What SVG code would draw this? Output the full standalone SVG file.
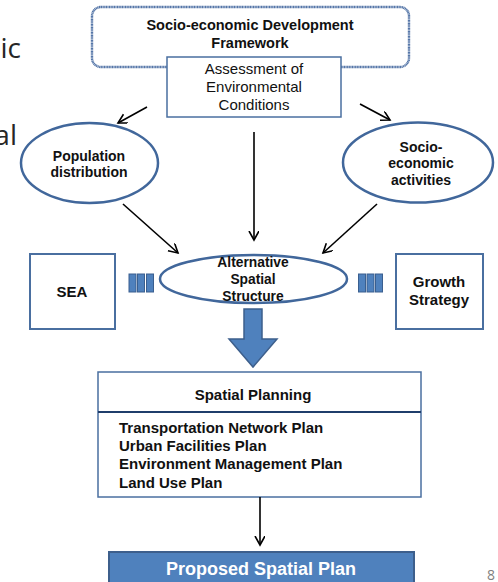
<svg xmlns="http://www.w3.org/2000/svg" width="498" height="582" viewBox="0 0 498 582">
<defs>
<style>
.b{font-family:"Liberation Sans",Arial,sans-serif;font-weight:bold;fill:#111;text-anchor:middle}
.r{font-family:"Liberation Sans",Arial,sans-serif;fill:#111;text-anchor:middle}
.ell{fill:#fff;stroke:#41679b;stroke-width:2.5}
.box{fill:#fff;stroke:#4a6fa0;stroke-width:2}
.con{stroke:#000;stroke-width:1.6;fill:none}
.bar{fill:#4f81bd;stroke:#3a5f8f;stroke-width:1}
</style>
<marker id="ah" markerWidth="12" markerHeight="12" refX="9" refY="5" orient="auto" markerUnits="userSpaceOnUse">
<path d="M0,0 L9,5 L0,10" fill="none" stroke="#000" stroke-width="1.6"/>
</marker>
</defs>
<rect width="498" height="582" fill="#fff"/>
<g id="bg-text" font-family="'Open Sans','Noto Sans',sans-serif" font-size="28" fill="#262626" text-anchor="end">
<text x="21" y="58">ic</text>
<text x="17" y="145">al</text>
</g>
<g id="framework">
<rect x="92" y="7" width="317" height="60" rx="9" fill="#fff" stroke="#5576a8" stroke-width="2.4" stroke-dasharray="1.2 0.4"/>
<text class="b" x="250" y="30" font-size="14.5">Socio-economic Development</text>
<text class="b" x="250" y="48" font-size="14.5">Framework</text>
</g>
<g id="assessment">
<rect x="167" y="57" width="174" height="60" fill="#fff" stroke="#4a6fa0" stroke-width="1.5"/>
<text class="r" x="254" y="74" font-size="15">Assessment of</text>
<text class="r" x="254" y="92" font-size="15">Environmental</text>
<text class="r" x="254" y="110" font-size="15">Conditions</text>
</g>
<g id="population">
<ellipse class="ell" cx="89.5" cy="163" rx="68.5" ry="40"/>
<text class="b" x="89" y="161" font-size="14">Population</text>
<text class="b" x="89" y="177" font-size="14">distribution</text>
</g>
<g id="socioeconomic">
<ellipse class="ell" cx="418" cy="162.5" rx="75" ry="40"/>
<text class="b" x="421" y="152" font-size="14">Socio-</text>
<text class="b" x="421" y="168" font-size="14">economic</text>
<text class="b" x="421" y="185" font-size="14">activities</text>
</g>
<g id="alternative">
<ellipse class="ell" cx="253.5" cy="279" rx="93.5" ry="24"/>
<text class="b" x="253" y="267" font-size="13.8">Alternative</text>
<text class="b" x="253" y="284" font-size="13.8">Spatial</text>
<text class="b" x="253" y="301" font-size="13.8">Structure</text>
</g>
<g id="sea">
<rect class="box" x="30" y="254" width="85" height="75"/>
<text class="b" x="72" y="297" font-size="15">SEA</text>
</g>
<g id="growth">
<rect class="box" x="396" y="254" width="87" height="75"/>
<text class="b" x="439" y="287" font-size="15">Growth</text>
<text class="b" x="439" y="305" font-size="15">Strategy</text>
</g>
<g id="bars-left">
<rect class="bar" x="129" y="274" width="7" height="18"/>
<rect class="bar" x="137.5" y="274" width="7" height="18"/>
<rect class="bar" x="146.5" y="274" width="7" height="18"/>
</g>
<g id="bars-right">
<rect class="bar" x="358.5" y="274" width="7" height="18"/>
<rect class="bar" x="367" y="274" width="7" height="18"/>
<rect class="bar" x="375.5" y="274" width="7" height="18"/>
</g>
<g id="spatial-planning">
<rect x="98" y="372" width="323" height="125" fill="#fff" stroke="#4a6fa0" stroke-width="1.5"/>
<line x1="98" y1="412" x2="421" y2="412" stroke="#1f3d6b" stroke-width="1.8"/>
<text class="b" x="253" y="400" font-size="15">Spatial Planning</text>
<g font-family="'Liberation Sans',Arial,sans-serif" font-weight="bold" font-size="15" fill="#111">
<text x="119" y="433">Transportation Network Plan</text>
<text x="119" y="451">Urban Facilities Plan</text>
<text x="119" y="469">Environment Management Plan</text>
<text x="119" y="488">Land Use Plan</text>
</g>
</g>
<g id="proposed">
<rect x="109" y="552" width="305" height="40" fill="#4f81bd" stroke="#3d5f8c" stroke-width="2"/>
<text x="261" y="575" font-family="'Liberation Sans',Arial,sans-serif" font-weight="bold" font-size="18" fill="#fff" text-anchor="middle">Proposed Spatial Plan</text>
</g>
<g id="connectors">
<line class="con" x1="147" y1="107" x2="118" y2="123" marker-end="url(#ah)"/>
<line class="con" x1="360" y1="104" x2="390" y2="120" marker-end="url(#ah)"/>
<line class="con" x1="254" y1="132" x2="254" y2="240" marker-end="url(#ah)"/>
<line class="con" x1="123" y1="204" x2="178" y2="253" marker-end="url(#ah)"/>
<line class="con" x1="377" y1="204" x2="323" y2="253" marker-end="url(#ah)"/>
<line class="con" x1="260" y1="497" x2="260" y2="545" stroke-width="2.2" marker-end="url(#ah)"/>
<polygon points="244,309 262,309 262,339 277,339 253,367 229,339 244,339" fill="#4f81bd" stroke="#3d5f8c" stroke-width="1.5"/>
</g>
<text x="487" y="580" font-family="'Open Sans','Noto Sans',sans-serif" font-size="14" fill="#7f7f7f">8</text>
</svg>
